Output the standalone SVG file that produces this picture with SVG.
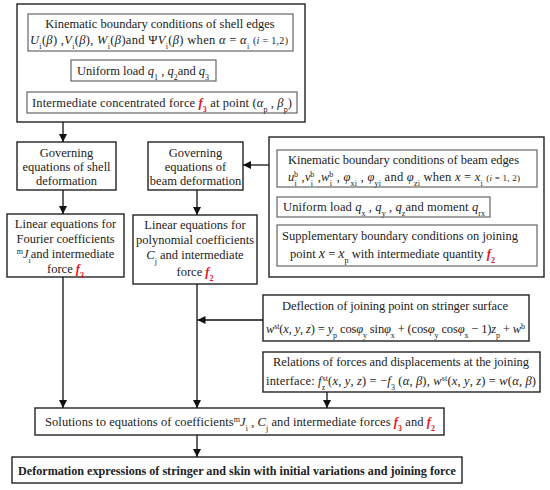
<svg xmlns="http://www.w3.org/2000/svg" width="550" height="490" viewBox="0 0 550 490">
<defs>
<marker id="ah" viewBox="0 0 10 10" refX="10" refY="5" markerWidth="8" markerHeight="8" markerUnits="userSpaceOnUse" orient="auto">
<path d="M0,0 L10,5 L0,10 z" fill="#111"/>
</marker>
</defs>
<rect width="550" height="490" fill="#fff"/>
<g font-family="'Liberation Serif', serif" font-size="12.5" fill="#222">
<g id="shell-conditions">
<rect x="17" y="4" width="288" height="118" fill="#fff" stroke="#222" stroke-width="1.4"/>
<rect x="28" y="14" width="265" height="37" fill="#fff" stroke="#666" stroke-width="1.2"/>
<text text-anchor="middle" x="160" y="28">Kinematic boundary conditions of shell edges</text>
<text x="30" y="44" textLength="258" lengthAdjust="spacing"><tspan font-style="italic">U</tspan><tspan font-size="8" baseline-shift="sub">i</tspan>(<tspan font-style="italic">β</tspan>)  ,<tspan font-style="italic">V</tspan><tspan font-size="8" baseline-shift="sub">i</tspan>(<tspan font-style="italic">β</tspan>), <tspan font-style="italic">W</tspan><tspan font-size="8" baseline-shift="sub">i</tspan>(<tspan font-style="italic">β</tspan>)and  Ψ<tspan font-style="italic">V</tspan><tspan font-size="8" baseline-shift="sub">i</tspan>(<tspan font-style="italic">β</tspan>) when <tspan font-style="italic">α</tspan> = <tspan font-style="italic">α</tspan><tspan font-size="8" baseline-shift="sub">i</tspan>  <tspan font-size="10">(<tspan font-style="italic">i</tspan> = 1,2)</tspan></text>
<rect x="71" y="60" width="145" height="21" fill="#fff" stroke="#666" stroke-width="1.2"/>
<text text-anchor="middle" x="143" y="75">Uniform load  <tspan font-style="italic">q</tspan><tspan font-size="8" baseline-shift="sub">1</tspan> ,  <tspan font-style="italic">q</tspan><tspan font-size="8" baseline-shift="sub">2</tspan>and  <tspan font-style="italic">q</tspan><tspan font-size="8" baseline-shift="sub">3</tspan></text>
<rect x="27" y="92" width="270" height="21" fill="#fff" stroke="#666" stroke-width="1.2"/>
<text x="32" y="107" textLength="260" lengthAdjust="spacing">Intermediate concentrated force  <tspan fill="#e8121b" font-style="italic" font-weight="bold">f</tspan><tspan fill="#e8121b" font-weight="bold" font-size="8" baseline-shift="sub">3</tspan> at point  (<tspan font-style="italic">α</tspan><tspan font-size="8" baseline-shift="sub">p</tspan> , <tspan font-style="italic">β</tspan><tspan font-size="8" baseline-shift="sub">p</tspan>)</text>
</g>

<g id="gov-shell">
<rect x="17" y="142" width="99" height="48" fill="#fff" stroke="#222" stroke-width="1.4"/>
<text text-anchor="middle" x="66.5" y="157">Governing</text>
<text text-anchor="middle" x="66.5" y="171">equations of  shell</text>
<text text-anchor="middle" x="66.5" y="185">deformation</text>
</g>

<g id="lin-shell">
<rect x="7" y="214" width="117" height="63" fill="#fff" stroke="#222" stroke-width="1.4"/>
<text text-anchor="middle" x="65.5" y="228">Linear equations for</text>
<text text-anchor="middle" x="65.5" y="243">Fourier  coefficients</text>
<text text-anchor="middle" x="65.5" y="258"><tspan font-size="8" baseline-shift="super">m</tspan><tspan font-style="italic">J</tspan><tspan font-size="8" baseline-shift="sub">i</tspan>and intermediate</text>
<text text-anchor="middle" x="65.5" y="273">force  <tspan fill="#e8121b" font-style="italic" font-weight="bold">f</tspan><tspan fill="#e8121b" font-weight="bold" font-size="8" baseline-shift="sub">3</tspan></text>
</g>

<g id="gov-beam">
<rect x="148" y="142" width="95" height="48" fill="#fff" stroke="#222" stroke-width="1.4"/>
<text text-anchor="middle" x="195.5" y="157">Governing</text>
<text text-anchor="middle" x="195.5" y="171">equations of</text>
<text text-anchor="middle" x="195.5" y="185">beam deformation</text>
</g>

<g id="lin-beam">
<rect x="133" y="215" width="124" height="69" fill="#fff" stroke="#222" stroke-width="1.4"/>
<text text-anchor="middle" x="195" y="229">Linear equations for</text>
<text text-anchor="middle" x="195" y="244">polynomial coefficients</text>
<text text-anchor="middle" x="195" y="259"><tspan font-style="italic">C</tspan><tspan font-size="8" baseline-shift="sub">j</tspan>    and intermediate</text>
<text text-anchor="middle" x="195" y="276">force  <tspan fill="#e8121b" font-style="italic" font-weight="bold">f</tspan><tspan fill="#e8121b" font-weight="bold" font-size="8" baseline-shift="sub">2</tspan></text>
</g>

<g id="beam-conditions">
<rect x="269" y="137" width="275" height="140" fill="#fff" stroke="#222" stroke-width="1.4"/>
<rect x="277" y="150" width="260" height="37" fill="#fff" stroke="#666" stroke-width="1.2"/>
<text x="288" y="164" textLength="231" lengthAdjust="spacing">Kinematic boundary conditions of beam edges</text>
<text x="288" y="181" textLength="232" lengthAdjust="spacing"><tspan font-style="italic">u</tspan><tspan font-size="8" baseline-shift="sub">i</tspan><tspan font-size="8" baseline-shift="super" dx="-3">b</tspan>  ,<tspan font-style="italic">v</tspan><tspan font-size="8" baseline-shift="sub">i</tspan><tspan font-size="8" baseline-shift="super" dx="-3">b</tspan> ,<tspan font-style="italic">w</tspan><tspan font-size="8" baseline-shift="sub">i</tspan><tspan font-size="8" baseline-shift="super" dx="-3">b</tspan> , <tspan font-style="italic">φ</tspan><tspan font-size="8" baseline-shift="sub">xi</tspan> , <tspan font-style="italic">φ</tspan><tspan font-size="8" baseline-shift="sub">yi</tspan> and   <tspan font-style="italic">φ</tspan><tspan font-size="8" baseline-shift="sub">zi</tspan> when <tspan font-style="italic">x</tspan> = <tspan font-style="italic">x</tspan><tspan font-size="8" baseline-shift="sub">i</tspan> <tspan font-size="9">(<tspan font-style="italic">i</tspan> = 1, 2)</tspan></text>
<rect x="277" y="197" width="213" height="20" fill="#fff" stroke="#666" stroke-width="1.2"/>
<text x="283" y="211" textLength="202" lengthAdjust="spacing">Uniform load  <tspan font-style="italic">q</tspan><tspan font-size="8" baseline-shift="sub">x</tspan> ,  <tspan font-style="italic">q</tspan><tspan font-size="8" baseline-shift="sub">y</tspan> ,  <tspan font-style="italic">q</tspan><tspan font-size="8" baseline-shift="sub">z</tspan>and moment <tspan font-style="italic">q</tspan><tspan font-size="8" baseline-shift="sub">rx</tspan></text>
<rect x="277" y="225" width="260" height="41" fill="#fff" stroke="#666" stroke-width="1.2"/>
<text x="282" y="240" textLength="236" lengthAdjust="spacing">Supplementary boundary conditions on joining</text>
<text x="290" y="258">point  <tspan font-style="italic" font-size="14">x</tspan> = <tspan font-style="italic" font-size="14">x</tspan><tspan font-size="8" baseline-shift="sub">p</tspan> with intermediate quantity  <tspan fill="#e8121b" font-style="italic" font-weight="bold">f</tspan><tspan fill="#e8121b" font-weight="bold" font-size="8" baseline-shift="sub">2</tspan></text>
</g>

<g id="deflection">
<rect x="263" y="295" width="266" height="46" fill="#fff" stroke="#222" stroke-width="1.4"/>
<text x="282" y="310" textLength="226" lengthAdjust="spacing">Deflection of joining point on stringer surface</text>
<text x="266" y="333" textLength="259" lengthAdjust="spacing"><tspan font-style="italic">w</tspan><tspan font-size="8" baseline-shift="super">st</tspan>(<tspan font-style="italic">x</tspan>, <tspan font-style="italic">y</tspan>, <tspan font-style="italic">z</tspan>) = <tspan font-style="italic">y</tspan><tspan font-size="8" baseline-shift="sub">p</tspan> cos<tspan font-style="italic">φ</tspan><tspan font-size="8" baseline-shift="sub">y</tspan> sin<tspan font-style="italic">φ</tspan><tspan font-size="8" baseline-shift="sub">x</tspan> + (cos<tspan font-style="italic">φ</tspan><tspan font-size="8" baseline-shift="sub">y</tspan> cos<tspan font-style="italic">φ</tspan><tspan font-size="8" baseline-shift="sub">x</tspan> − 1)<tspan font-style="italic">z</tspan><tspan font-size="8" baseline-shift="sub">p</tspan> + <tspan font-style="italic">w</tspan><tspan font-size="8" baseline-shift="super">b</tspan></text>
</g>

<g id="relations">
<rect x="263" y="352" width="277" height="40" fill="#fff" stroke="#222" stroke-width="1.4"/>
<text x="273" y="366" textLength="256" lengthAdjust="spacing">Relations of forces and displacements at the joining</text>
<text x="266" y="385" textLength="270" lengthAdjust="spacing">interface:  <tspan font-style="italic">f</tspan><tspan font-size="8" baseline-shift="sub">z</tspan><tspan font-size="8" baseline-shift="super" dx="-3">st</tspan>(<tspan font-style="italic">x</tspan>, <tspan font-style="italic">y</tspan>, <tspan font-style="italic">z</tspan>) = −<tspan font-style="italic">f</tspan><tspan font-size="8" baseline-shift="sub">3</tspan> (<tspan font-style="italic">α</tspan>, <tspan font-style="italic">β</tspan>), <tspan font-style="italic">w</tspan><tspan font-size="8" baseline-shift="super">st</tspan>(<tspan font-style="italic">x</tspan>, <tspan font-style="italic">y</tspan>, <tspan font-style="italic">z</tspan>) = <tspan font-style="italic">w</tspan>(<tspan font-style="italic">α</tspan>, <tspan font-style="italic">β</tspan>)</text>
</g>

<g id="solutions">
<rect x="35" y="408" width="409" height="27" fill="#fff" stroke="#222" stroke-width="1.4"/>
<text x="45" y="426" textLength="390" lengthAdjust="spacing">Solutions to  equations of coefficients<tspan font-size="8" baseline-shift="super">m</tspan><tspan font-style="italic">J</tspan><tspan font-size="8" baseline-shift="sub">i</tspan>  , <tspan font-style="italic">C</tspan><tspan font-size="8" baseline-shift="sub">j</tspan> and intermediate forces  <tspan fill="#e8121b" font-style="italic" font-weight="bold">f</tspan><tspan fill="#e8121b" font-weight="bold" font-size="8" baseline-shift="sub">3</tspan> and  <tspan fill="#e8121b" font-style="italic" font-weight="bold">f</tspan><tspan fill="#e8121b" font-weight="bold" font-size="8" baseline-shift="sub">2</tspan></text>
</g>

<g id="deformation">
<rect x="12" y="457" width="450" height="26" fill="#fff" stroke="#222" stroke-width="1.4"/>
<text font-weight="bold" x="18" y="475" textLength="438" lengthAdjust="spacingAndGlyphs">Deformation expressions of stringer and skin with initial variations and joining force</text>
</g>
</g>
<g id="connectors" stroke="#111" stroke-width="1.3" fill="none" marker-end="url(#ah)">
<line x1="63" y1="122" x2="63" y2="142"/>
<line x1="63" y1="190" x2="63" y2="214"/>
<line x1="197" y1="190" x2="197" y2="215"/>
<line x1="269" y1="165" x2="243" y2="165"/>
<line x1="63" y1="277" x2="63" y2="408"/>
<line x1="197" y1="284" x2="197" y2="408"/>
<line x1="263" y1="320" x2="197.5" y2="320"/>
<line x1="327" y1="392" x2="327" y2="408"/>
<line x1="197" y1="435" x2="197" y2="457"/>
</g>
</svg>
